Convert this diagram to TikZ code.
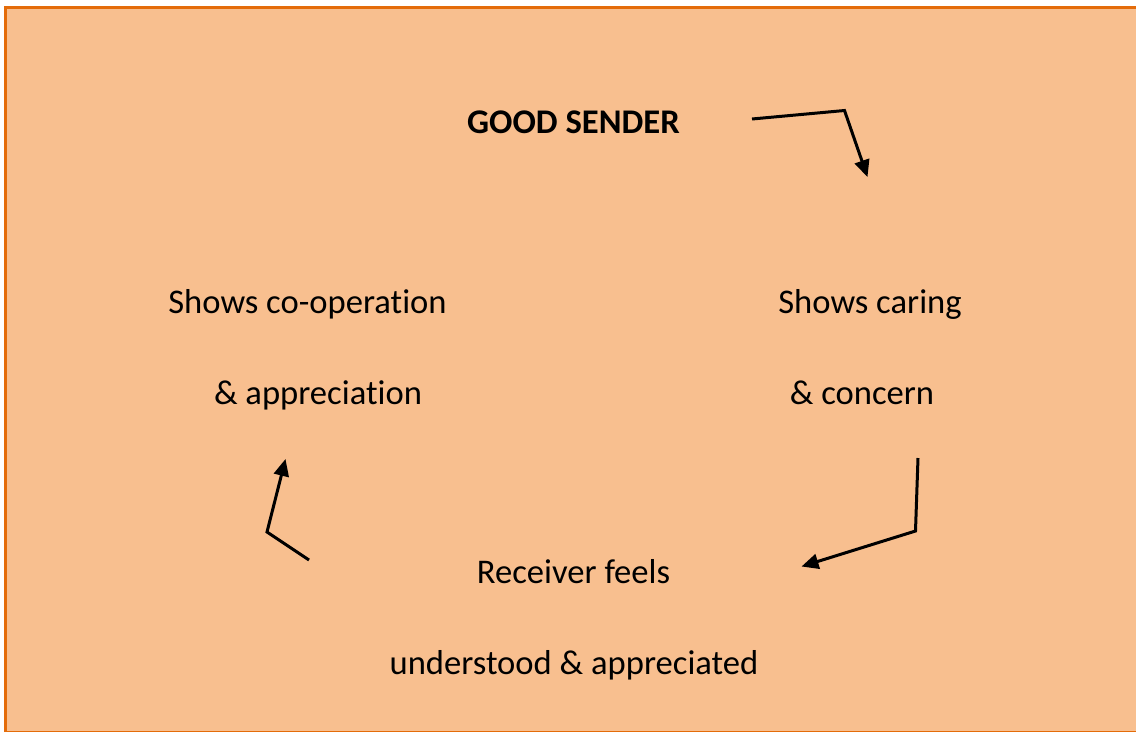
\documentclass[tikz,border=0pt]{standalone}
\usepackage{fontspec}
\setmainfont[Ligatures=NoCommon]{Carlito}
\usepackage{xcolor}
\usepackage{tikz}
\usetikzlibrary{arrows.meta}

\definecolor{peach}{HTML}{F8BF8F}
\definecolor{frameorange}{HTML}{E46C0A}

\tikzset{
  label text/.style={anchor=base, inner sep=0pt, font=\fontsize{34.6}{40}\selectfont},
  cycle arrow/.style={
    color=black,
    line width=3pt,
    line join=miter,
    -{Triangle[length=17pt, width=15pt]},
  },
}

\begin{document}
\begin{tikzpicture}[x=1pt, y=-1pt]
  \useasboundingbox (0, 0) rectangle (1136, 732);
  \fill[color=peach] (4, 6) rectangle (1136, 732);
  \draw[color=frameorange, line width=3.5pt] (5.5, 732) -- (5.5, 7.5) -- (1136, 7.5);
  \draw[color=frameorange, line width=1.5pt] (4, 731.5) -- (1136, 731.5);

  \node[label text, font=\fontsize{34.6}{40}\selectfont\bfseries] (sender) at (573.5, 133) {GOOD SENDER};
  \node[label text] (caringa) at (870, 313) {Shows caring};
  \node[label text] (caringb) at (862, 404) {\& concern};
  \node[label text] (receivera) at (573.5, 583) {Receiver feels};
  \node[label text] (receiverb) at (574, 674) {understood \& appreciated};
  \node[label text] (coopa) at (307.5, 313) {Shows co-operation};
  \node[label text] (coopb) at (318, 404) {\& appreciation};

  % arrows of the cycle
  \coordinate (s1) at (752, 119);
  \coordinate (k1) at (844.5, 110.5);
  \coordinate (e1) at (867.5, 177);
  \coordinate (s2) at (918, 458);
  \coordinate (k2) at (915.5, 531);
  \coordinate (e2) at (801.5, 566.5);
  \coordinate (s3) at (309, 560);
  \coordinate (k3) at (267, 532);
  \coordinate (e3) at (285.5, 459);

  \draw[cycle arrow] (s1) -- (k1) -- (e1);
  \draw[cycle arrow] (s2) -- (k2) -- (e2);
  \draw[cycle arrow] (s3) -- (k3) -- (e3);
\end{tikzpicture}
\end{document}
